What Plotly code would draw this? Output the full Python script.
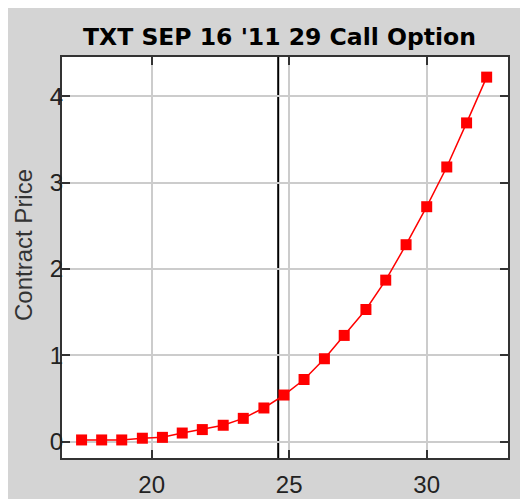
import plotly.graph_objects as go

# Underlying price (x) and option contract price (y)
underlying = [17.45, 18.18, 18.91, 19.66, 20.39, 21.11, 21.84, 22.60, 23.33, 24.08,
              24.81, 25.54, 26.28, 27.00, 27.79, 28.51, 29.25, 30.00, 30.73, 31.45, 32.18]
contract_price = [0.02, 0.02, 0.02, 0.04, 0.05, 0.10, 0.14, 0.19, 0.27, 0.39,
                  0.54, 0.72, 0.96, 1.23, 1.53, 1.87, 2.28, 2.72, 3.18, 3.69, 4.22]
current_price = 24.6
x_ticks = [20, 25, 30]
y_ticks = [0, 1, 2, 3, 4]
title_text = "TXT SEP 16 '11 29 Call Option"
y_title = "Contract Price"

W, H = 528, 499
L, R, T, B = 54, 28, 49, 49
pw, ph = W - L - R, H - T - B

fig = go.Figure()
fig.add_trace(go.Scatter(
    x=underlying, y=contract_price, mode="lines+markers",
    line=dict(color="#ff0000", width=1.5),
    marker=dict(symbol="square", size=11, color="#ff0000"),
    showlegend=False, hoverinfo="x+y"))

gray = "#d4d4d4"
fig.update_layout(
    width=W, height=H,
    margin=dict(l=L, r=R, t=T, b=B, autoexpand=False),
    paper_bgcolor=gray, plot_bgcolor="white",
    font=dict(family="Liberation Sans, Arial, sans-serif", size=24, color="#222222"),
    title=dict(text="<b>" + title_text + "</b>",
               font=dict(family="DejaVu Sans", size=23.5, color="black"),
               x=(271.5 - L) / pw, xref="paper", xanchor="center",
               y=1 - 29 / H, yref="container", yanchor="middle"),
    xaxis=dict(range=[16.738, 32.956], tickvals=x_ticks, ticks="inside", ticklen=8,
               tickwidth=2, tickcolor="#333333", showline=True, linewidth=2,
               linecolor="#333333", mirror="ticks", showgrid=True,
               gridcolor="#cccccc", gridwidth=2, zeroline=False, fixedrange=True,
               ticklabelstandoff=4, automargin=False),
    yaxis=dict(range=[-0.189, 4.453], tickvals=y_ticks, ticks="inside", ticklen=8,
               tickwidth=2, tickcolor="#333333", showline=True, linewidth=2,
               linecolor="#333333", mirror="ticks", showgrid=True,
               gridcolor="#cccccc", gridwidth=2, zeroline=False, fixedrange=True,
               ticklabelstandoff=-8, automargin=False),
)

# vertical line at current underlying price
fig.add_shape(type="line", xref="x", yref="paper", x0=current_price, x1=current_price,
              y0=0, y1=1, line=dict(color="black", width=2), layer="below")

fig.add_annotation(text=y_title, textangle=-90, xref="paper", yref="paper",
                   x=(15 - L) / pw, y=(H - B - 237) / ph, showarrow=False,
                   xanchor="center", yanchor="middle",
                   font=dict(family="Liberation Sans, Arial, sans-serif", size=24, color="#333333"))

fig.write_html("out.html")
